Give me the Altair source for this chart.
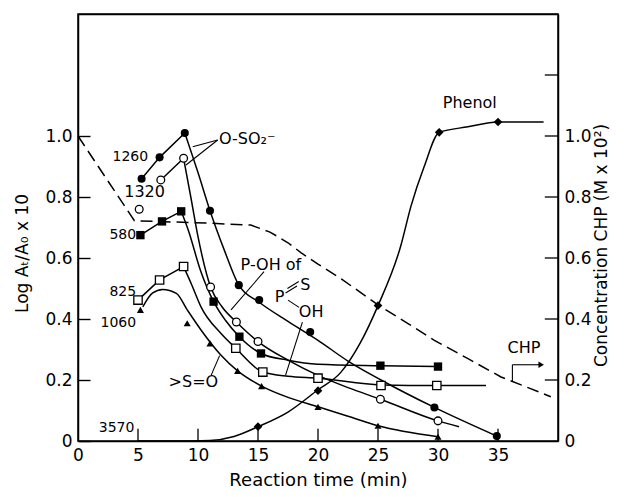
import altair as alt
import pandas as pd

# ---------------- data ----------------
# markers
FC_X = [5.3, 6.8, 8.9, 11.0, 13.4, 15.1, 19.35, 29.7, 34.9]          # 1260, filled circles
FC_Y = [0.86, 0.93, 1.01, 0.755, 0.511, 0.462, 0.357, 0.11, 0.016]
OC_X = [5.1, 6.9, 8.8, 11.05, 13.2, 15.0, 25.2, 30.0]                # 1320, open circles
OC_Y = [0.76, 0.856, 0.927, 0.505, 0.39, 0.326, 0.137, 0.066]
FS_X = [5.2, 7.0, 8.6, 11.3, 13.45, 15.25, 25.2, 30.0]               # 580, filled squares
FS_Y = [0.675, 0.72, 0.753, 0.457, 0.342, 0.287, 0.247, 0.244]
OS_X = [5.0, 6.8, 8.8, 13.15, 15.4, 20.0, 25.25, 29.9]               # 825, open squares
OS_Y = [0.462, 0.528, 0.572, 0.304, 0.226, 0.206, 0.182, 0.182]
TR_X = [5.2, 9.1, 11.0, 13.3, 15.3, 20.0, 25.0, 30.0]                # 1060, triangles
TR_Y = [0.43, 0.386, 0.32, 0.23, 0.18, 0.112, 0.05, 0.014]
PH_X = [15.0, 20.0, 25.0, 30.1, 35.0]                                # 3570, phenol diamonds
PH_Y = [0.047, 0.165, 0.444, 1.012, 1.046]

# straight rising segments
FC_RISE_X = [5.3, 6.8, 8.9]
FC_RISE_Y = [0.86, 0.93, 1.01]
OC_RISE_X = [6.9, 8.8]
OC_RISE_Y = [0.856, 0.927]
FS_RISE_X = [5.2, 7.0, 8.6]
FS_RISE_Y = [0.675, 0.72, 0.753]
OS_RISE_X = [5.0, 6.8, 8.8]
OS_RISE_Y = [0.462, 0.528, 0.572]

# smooth fitted curves
FC_FALL_X = [8.9, 10.0, 11.0, 12.2, 13.4, 15.1, 17.5, 20.0, 22.5, 25.25, 29.7, 34.9]
FC_FALL_Y = [1.01, 0.88, 0.755, 0.625, 0.511, 0.455, 0.392, 0.33, 0.262, 0.2, 0.11, 0.016]
OC_FALL_X = [8.8, 9.4, 10.0, 11.05, 12.0, 13.2, 15.0, 17.5, 20.0, 22.5, 25.2, 30.0, 31.75]
OC_FALL_Y = [0.927, 0.80, 0.67, 0.505, 0.44, 0.39, 0.326, 0.265, 0.215, 0.175, 0.137, 0.066, 0.047]
FS_FALL_X = [8.6, 9.2, 10.2, 11.3, 12.3, 13.45, 15.25, 17.5, 20.0, 25.2, 30.0]
FS_FALL_Y = [0.753, 0.69, 0.56, 0.457, 0.395, 0.342, 0.287, 0.265, 0.252, 0.247, 0.244]
OS_FALL_X = [8.8, 9.5, 10.25, 11.9, 13.15, 15.4, 17.5, 20.0, 25.25, 29.9, 34.0]
OS_FALL_Y = [0.572, 0.51, 0.44, 0.353, 0.304, 0.226, 0.212, 0.206, 0.184, 0.182, 0.182]
TR_CURVE_X = [5.4, 6.2, 7.05, 8.2, 9.1, 10.25, 11.9, 13.3, 15.3, 17.5, 20.0, 22.5, 25.0, 30.0]
TR_CURVE_Y = [0.44, 0.485, 0.497, 0.484, 0.43, 0.364, 0.282, 0.23, 0.18, 0.143, 0.112, 0.081, 0.05, 0.014]
PH_CURVE_X = [5.0, 8.0, 11.0, 13.0, 15.0, 17.5, 20.0, 21.9, 23.5, 25.0, 26.9, 27.75, 28.85, 30.1, 32.5, 35.0, 38.8]
PH_CURVE_Y = [0.0, 0.0, 0.002, 0.015, 0.047, 0.095, 0.168, 0.225, 0.32, 0.444, 0.64, 0.77, 0.9, 1.012, 1.03, 1.046, 1.046]

# CHP concentration (right axis), dashed
CHP_X = [0, 4.7, 8.0, 11.0, 14.4, 16.0, 17.5, 18.6, 20.0, 22.0, 25.0, 27.5, 29.7, 32.5, 35.25, 37.5, 39.4]
CHP_Y = [1.0, 0.722, 0.718, 0.714, 0.708, 0.685, 0.65, 0.617, 0.58, 0.53, 0.446, 0.385, 0.33, 0.27, 0.21, 0.175, 0.145]

# axis domains and ticks
X_DOMAIN = [0, 40]
Y_DOMAIN = [0, 1.4]
X_TICKS = [0, 5, 10, 15, 20, 25, 30, 35]
Y_TICKS = [0, 0.2, 0.4, 0.6, 0.8, 1.0]
Y_LEFT_GRID = [0, 0.2, 0.4, 0.6, 0.8, 1.0, 1.4]   # 1.4 = top edge of the frame
Y_RIGHT_MINOR = [0.2, 0.4, 0.6, 0.8, 1.0, 1.2]

# annotation labels
LBL_RIGHT_TEXT = ["1260", "580", "825", "1060", "3570"]
LBL_RIGHT_X = [5.85, 4.85, 4.85, 4.85, 4.7]
LBL_RIGHT_Y = [0.93, 0.675, 0.489, 0.387, 0.043]
LBL_CENTER_TEXT = ["1320", "P", "S"]
LBL_CENTER_X = [5.55, 16.8, 18.95]
LBL_CENTER_Y = [0.816, 0.472, 0.511]
LBL_LEFT_TEXT = ["O-SO₂⁻", "P-OH of", "OH", ">S=O", "Phenol", "CHP"]
LBL_LEFT_X = [11.75, 13.55, 18.4, 7.55, 30.4, 35.8]
LBL_LEFT_Y = [0.99, 0.577, 0.424, 0.193, 1.108, 0.305]

# leader lines / bonds (start x, start y, end x, end y)
LEAD_X1 = [11.64, 11.64, 15.5, 18.7, 11.1, 17.3, 17.45, 17.5, 36.2, 36.2]
LEAD_Y1 = [0.987, 0.987, 0.555, 0.39, 0.216, 0.485, 0.500, 0.462, 0.195, 0.25]
LEAD_X2 = [9.56, 9.0, 12.75, 17.3, 11.8, 18.25, 18.4, 18.42, 36.2, 38.6]
LEAD_Y2 = [0.965, 0.905, 0.43, 0.216, 0.28, 0.508, 0.523, 0.438, 0.25, 0.25]
ARROW_X = [38.6]
ARROW_Y = [0.25]

FONT = "DejaVu Sans"

xs = alt.Scale(domain=X_DOMAIN, nice=False, zero=False)
ys = alt.Scale(domain=Y_DOMAIN, nice=False, zero=False)
common = dict(ticks=False, labelFontSize=17, labelPadding=6, labelFont=FONT,
              titleFont=FONT, titleFontWeight="normal", labelColor="black",
              titleColor="black", domain=True, domainColor="black", domainWidth=1.5)
x_axis = alt.Axis(values=X_TICKS, title="Reaction time (min)", titleFontSize=18,
                  titlePadding=8, labelFlush=False, grid=False, **common)
# left axis: its grid lines, dashed to 12 px, give the inward ticks; the 1.4 line is the top edge
y_axis = alt.Axis(values=Y_LEFT_GRID, title="Log Aₜ/A₀ x 10", titleFontSize=17,
                  titleAngle=270, titleX=-56, titleY=239, titleAlign="center",
                  titleBaseline="middle", grid=True, gridColor="black", gridWidth=1.4,
                  gridOpacity=1,
                  gridDash={"condition": {"test": "datum.value > 1.3", "value": [2000, 1]},
                            "value": [12, 2000]},
                  labelExpr="datum.value == 0 ? '0' : (datum.value > 1.3 ? '' : format(datum.value, '.1f'))",
                  **common)
y_axis_r = alt.Axis(values=Y_TICKS, orient="right", title="Concentration CHP (M x 10²)",
                    labelAlign="left", titleFontSize=17, titleAngle=270, titleX=43,
                    titleY=231, titleAlign="center", titleBaseline="middle", grid=False,
                    labelExpr="datum.value == 0 ? '0' : format(datum.value, '.1f')", **common)


def X(f="x"):
    return alt.X(f + ":Q", scale=xs, axis=x_axis)


def Y(f="y"):
    return alt.Y(f + ":Q", scale=ys, axis=y_axis)


def YR(f="y"):
    return alt.Y(f + ":Q", scale=ys, axis=y_axis_r)


def df(xv, yv, name):
    return pd.DataFrame({"x": xv, "y": yv, "c": name})


rise = pd.concat([df(FC_RISE_X, FC_RISE_Y, "fc"), df(OC_RISE_X, OC_RISE_Y, "oc"),
                  df(FS_RISE_X, FS_RISE_Y, "fs"), df(OS_RISE_X, OS_RISE_Y, "os")])
fall = pd.concat([df(FC_FALL_X, FC_FALL_Y, "fc"), df(OC_FALL_X, OC_FALL_Y, "oc"),
                  df(FS_FALL_X, FS_FALL_Y, "fs"), df(OS_FALL_X, OS_FALL_Y, "os"),
                  df(TR_CURVE_X, TR_CURVE_Y, "tr"), df(PH_CURVE_X, PH_CURVE_Y, "ph")])

lw = 1.5
rise_l = alt.Chart(rise).mark_line(color="black", strokeWidth=lw).encode(
    x=X(), y=Y(), detail="c:N")
fall_l = alt.Chart(fall).mark_line(color="black", strokeWidth=lw, interpolate="monotone").encode(
    x=X(), y=Y(), detail="c:N")

lead = pd.DataFrame({"x": LEAD_X1, "y": LEAD_Y1, "x2": LEAD_X2, "y2": LEAD_Y2})
lead_l = alt.Chart(lead).mark_rule(color="black", strokeWidth=1.1).encode(
    x=X(), y=Y(), x2="x2:Q", y2="y2:Q")
arrow = alt.Chart(pd.DataFrame({"x": ARROW_X, "y": ARROW_Y})).mark_point(
    shape="triangle-right", filled=True, color="black", size=40, opacity=1).encode(x=X(), y=Y())


def pts(xv, yv, shape, size, open_=False):
    m = dict(shape=shape, size=size, opacity=1, strokeWidth=1.3, filled=True)
    if open_:
        m.update(fill="white", stroke="black")
    else:
        m.update(color="black")
    return alt.Chart(pd.DataFrame({"x": xv, "y": yv})).mark_point(**m).encode(x=X(), y=Y())


markers = [
    pts(FC_X, FC_Y, "circle", 65),
    pts(OC_X, OC_Y, "circle", 60, True),
    pts(FS_X, FS_Y, "square", 70),
    pts(OS_X, OS_Y, "square", 70, True),
    pts(TR_X, TR_Y, "triangle-up", 50),
    pts(PH_X, PH_Y, "diamond", 75),
]


def labels(tv, xv, yv, align, size):
    d = pd.DataFrame({"x": xv, "y": yv, "t": tv})
    return alt.Chart(d).mark_text(align=align, baseline="middle", font=FONT,
                                  fontSize=size, color="black").encode(x=X(), y=Y(), text="t:N")


txt = [
    labels(LBL_RIGHT_TEXT, LBL_RIGHT_X, LBL_RIGHT_Y, "right", 14),
    labels(LBL_CENTER_TEXT, LBL_CENTER_X, LBL_CENTER_Y, "center", 16),
    labels(LBL_LEFT_TEXT, LBL_LEFT_X, LBL_LEFT_Y, "left", 16),
]

group_a = alt.layer(lead_l, arrow, rise_l, fall_l, *markers, *txt)

# inward bottom / right ticks and the CHP curve share the right-hand axis
xt = pd.DataFrame({"x": X_TICKS[1:], "y": 0.0, "y2": 0.04})
xt_l = alt.Chart(xt).mark_rule(color="black", strokeWidth=1.3).encode(
    x=X(), y=YR(), y2="y2:Q")
ytr = pd.DataFrame({"y": Y_RIGHT_MINOR, "x": 38.9, "x2": 40.0})
ytr_l = alt.Chart(ytr).mark_rule(color="black", strokeWidth=1.3).encode(
    x=X(), x2="x2:Q", y=YR())
chp = pd.DataFrame({"x": CHP_X, "y": CHP_Y})
chp_l = alt.Chart(chp).mark_line(color="black", strokeWidth=1.5, strokeDash=[12, 6]).encode(
    x=X(), y=YR())

group_b = alt.layer(xt_l, ytr_l, chp_l)

chart = alt.layer(group_a, group_b).resolve_scale(y="independent").properties(
    width=480, height=427,
    autosize=alt.AutoSizeParams(type="none"),
    padding={"left": 70, "top": 6, "right": 62, "bottom": 48},
    background="white",
).configure_view(stroke="black", strokeWidth=1.5)

chart.save("out.html", embed_options={"renderer": "svg", "actions": False})
